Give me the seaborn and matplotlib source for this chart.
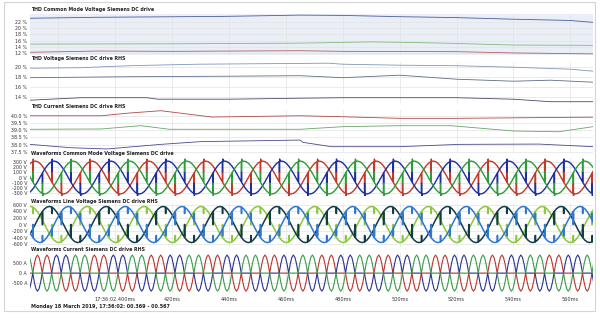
import numpy as np
import pandas as pd
import matplotlib
matplotlib.use("Agg")
import matplotlib.pyplot as plt
import matplotlib.patches as mpatches
import seaborn as sns

sns.set_style("white")
plt.rcParams['font.family'] = ['DejaVu Sans']

# ---------------- data ----------------
# THD Common Mode Voltage (%)
cm_blue_t = [370, 393, 439, 465, 480, 500, 520, 540, 560, 568]
cm_blue_v = [23.1, 23.4, 23.7, 24.1, 24.0, 23.6, 23.3, 22.8, 22.4, 21.8]
cm_green_t = [370, 420, 465, 490, 505, 520, 540, 568]
cm_green_v = [14.9, 15.0, 15.2, 15.6, 15.4, 15.1, 14.6, 14.5]
cm_red_t = [370, 394, 420, 465, 480, 520, 540, 568]
cm_red_v = [12.3, 12.7, 12.6, 12.8, 12.6, 12.5, 12.1, 11.8]

# THD Voltage (%)
tv_a_t = [370, 388, 405, 429, 475, 480, 500, 520, 540, 560, 568]
tv_a_v = [19.7, 19.8, 20.2, 20.5, 20.7, 20.5, 20.3, 20.2, 19.9, 19.5, 19.1]
tv_b_t = [370, 388, 405, 440, 465, 480, 500, 520, 540, 553, 568]
tv_b_v = [17.8, 17.9, 18.0, 18.1, 18.2, 17.8, 18.3, 17.5, 17.1, 17.3, 16.9]
tv_c_t = [370, 388, 411, 415, 440, 465, 480, 520, 540, 553, 568]
tv_c_v = [13.3, 13.8, 13.8, 13.5, 13.5, 13.7, 13.8, 13.8, 13.5, 13.0, 13.0]

# THD Current (%)
tc_red_t = [370, 395, 405, 416, 434, 465, 480, 500, 520, 560, 568]
tc_red_v = [40.0, 40.0, 40.19, 40.35, 39.91, 40.0, 39.93, 39.82, 39.82, 39.89, 39.9]
tc_green_t = [370, 395, 409, 419, 465, 480, 500, 518, 540, 556, 568]
tc_green_v = [39.06, 39.08, 39.31, 39.06, 39.06, 39.24, 39.31, 39.31, 38.94, 38.89, 39.24]
tc_navy_t = [370, 384, 397, 416, 430, 465, 466, 476, 500, 521, 549, 568]
tc_navy_v = [38.01, 37.78, 37.69, 38.01, 38.2, 38.31, 38.15, 37.85, 37.85, 38.01, 38.03, 37.85]

# one mains cycle of each waveform (angle deg, value)
cmv_ang = [0, 15, 15, 18, 18, 30, 45, 60, 75, 75, 78, 78, 79, 90, 105, 120, 135, 150, 165,
           180, 195, 195, 198, 198, 210, 225, 240, 255, 255, 258, 258, 259, 270, 285, 300, 315, 330, 345]
cmv_val = [0, 83, -113, -110, 99, 160, 226, 277, 309, 113, 118, 360, 315, 320, 309, 277, 226, 160, 83,
           0, -83, 113, 110, -99, -160, -226, -277, -309, -113, -118, -360, -315, -320, -309, -277, -226, -160, -83]

lv_ang = [0, 15, 15, 18, 18, 30, 45, 60, 75, 75, 78, 78, 90, 105, 120, 135, 135, 138, 138, 150, 165,
          180, 195, 195, 198, 198, 210, 225, 240, 255, 255, 258, 258, 270, 285, 300, 315, 315, 318, 318, 330, 345]
lv_val = [277, 392, 0, 0, 412, 480, 535, 554, 535, 339, 339, 527, 480, 392, 277, 143, 339, 339, 115, 0, -143,
          -277, -392, 0, 0, -412, -480, -535, -554, -535, -339, -339, -527, -480, -392, -277, -143, -339, -339, -115, 0, 143]

cur_ang = [15, 75, 85, 95, 105, 115, 125, 135, 145, 155, 165, 175, 185, 195,
           255, 265, 275, 285, 295, 305, 315, 325, 335, 345, 355, 365]
cur_val = [0, 0, 450, 780, 900, 780, 450, 0, 450, 780, 900, 780, 450, 0,
           0, -450, -780, -900, -780, -450, 0, -450, -780, -900, -780, -450]

mains_period_ms = 20.0
phase_a_zero_ms = 366.8
phase_lag_deg = [0, 120, 240]
phase_names = ["A", "B", "C"]

x_ticks = [400, 420, 440, 460, 480, 500, 520, 540, 560]
x_ticklabels = ["17:36:02.400ms", "420ms", "440ms", "460ms", "480ms", "500ms", "520ms", "540ms", "560ms"]
x_grid = [380, 400, 420, 440, 460, 480, 500, 520, 540, 560]

titles = ["THD Common Mode Voltage Siemens DC drive",
          "THD Voltage Siemens DC drive RHS",
          "THD Current Siemens DC drive RHS",
          "Waveforms Common Mode Voltage Siemens DC drive",
          "Waveforms Line Voltage Siemens DC drive RHS",
          "Waveforms Current Siemens DC drive RHS"]
footer = "Monday 18 March 2019, 17:36:02: 00.369 - 00.567"

# ---------------- helpers ----------------
def thd_frame(series):
    rows = []
    for name, ts, vs in series:
        for t, v in zip(ts, vs):
            rows.append((name, t, v))
    return pd.DataFrame(rows, columns=["s", "t", "v"])

def wave_frame(ang, val):
    rows = []
    for name, lag in zip(phase_names, phase_lag_deg):
        t0 = phase_a_zero_ms + lag / 360 * mains_period_ms
        for k in range(-2, 12):
            for a, v in zip(ang, val):
                rows.append((name, t0 + (a / 360 + k) * mains_period_ms, v))
    return pd.DataFrame(rows, columns=["s", "t", "v"])

W, H = 600, 318
fig = plt.figure(figsize=(W / 100, H / 100), dpi=100)
fig.patch.set_facecolor("white")

L, R = 30, 593
panels = [  # top px, bottom px
    (14, 54.5), (62, 102.5), (110, 153), (158, 196), (203, 247), (253, 294)]
title_y = [10, 58.3, 106.5, 154, 201.5, 249.3]

axes = []
for (top, bot) in panels:
    ax = fig.add_axes([L / W, 1 - bot / H, (R - L) / W, (bot - top) / H])
    axes.append(ax)

tick_fs = 3.4
grid_c = "#e3e3e3"

def style(ax, yticks, ylabels, ylim, face="white"):
    ax.set_facecolor(face)
    ax.set_xlim(370, 568)
    ax.set_ylim(*ylim)
    ax.set_yticks(yticks)
    ax.set_yticklabels(ylabels, fontsize=tick_fs, color="#333333")
    ax.set_xticks(x_grid)
    ax.set_xticklabels([])
    ax.tick_params(length=0, pad=2)
    ax.grid(True, color=grid_c, lw=0.5)
    ax.set_axisbelow(True)
    for s in ax.spines.values():
        s.set_visible(False)
    ax.set_xlabel("")
    ax.set_ylabel("")

# Panel 1
d = thd_frame([("b", cm_blue_t, cm_blue_v), ("g", cm_green_t, cm_green_v), ("r", cm_red_t, cm_red_v)])
sns.lineplot(data=d, x="t", y="v", hue="s", palette={"b": "#4a5f9c", "g": "#8ab87a", "r": "#b06060"},
             estimator=None, sort=False, legend=False, lw=0.6, ax=axes[0])
style(axes[0], [12, 14, 16, 18, 20, 22], ["12 %", "14 %", "16 %", "18 %", "20 %", "22 %"], (11.6, 24.45), face="#e9eef7")

# Panel 2
d = thd_frame([("a", tv_a_t, tv_a_v), ("b", tv_b_t, tv_b_v), ("c", tv_c_t, tv_c_v)])
sns.lineplot(data=d, x="t", y="v", hue="s", palette={"a": "#8097b8", "b": "#5f6f86", "c": "#4a4a70"},
             estimator=None, sort=False, legend=False, lw=0.6, ax=axes[1])
style(axes[1], [14, 16, 18, 20], ["14 %", "16 %", "18 %", "20 %"], (12.84, 20.94))

# Panel 3
d = thd_frame([("r", tc_red_t, tc_red_v), ("g", tc_green_t, tc_green_v), ("n", tc_navy_t, tc_navy_v)])
sns.lineplot(data=d, x="t", y="v", hue="s", palette={"r": "#b04848", "g": "#6aa56a", "n": "#4a4a90"},
             estimator=None, sort=False, legend=False, lw=0.6, ax=axes[2])
style(axes[2], [37.5, 38.0, 38.5, 39.0, 39.5, 40.0], ["37.5 %", "38.0 %", "38.5 %", "39.0 %", "39.5 %", "40.0 %"], (37.41, 40.4))

# Panel 4
d = wave_frame(cmv_ang, cmv_val)
sns.lineplot(data=d, x="t", y="v", hue="s", palette={"A": "#c0392b", "B": "#1f2e9e", "C": "#2e9b3a"},
             estimator=None, sort=False, legend=False, lw=1.0, ax=axes[3])
style(axes[3], [-300, -200, -100, 0, 100, 200, 300], ["-300 V", "-200 V", "-100 V", "0 V", "100 V", "200 V", "300 V"], (-360, 380))

# Panel 5
d = wave_frame(lv_ang, lv_val)
sns.lineplot(data=d, x="t", y="v", hue="s", palette={"A": "#8dc63f", "B": "#123c46", "C": "#2f78d0"},
             estimator=None, sort=False, legend=False, lw=1.1, ax=axes[4])
style(axes[4], [-600, -400, -200, 0, 200, 400, 600], ["-600 V", "-400 V", "-200 V", "0 V", "200 V", "400 V", "600 V"], (-690, 660))

# Panel 6
d = wave_frame(cur_ang, cur_val)
sns.lineplot(data=d, x="t", y="v", hue="s", palette={"A": "#b8362e", "B": "#2b3390", "C": "#3a9a48"},
             estimator=None, sort=False, legend=False, lw=0.8, ax=axes[5])
style(axes[5], [-500, 0, 500], ["-500 A", "0 A", "500 A"], (-1040, 1000))

# bottom x labels
for t, lab in zip(x_ticks, x_ticklabels):
    axes[5].annotate(lab, xy=(t, 0), xycoords=("data", "axes fraction"), xytext=(0, -4.0),
                     textcoords="offset points", ha="center", va="center", fontsize=3.6, color="#333333")

# titles
for ty, txt in zip(title_y, titles):
    fig.text(31 / W, 1 - ty / H, txt, fontsize=3.4, fontweight="bold", color="#222222", va="center", ha="left")

fig.text(31 / W, 1 - 306.7 / H, footer, fontsize=3.5, fontweight="bold", color="#222222", va="center", ha="left")

# outer frame
fig.patches.append(mpatches.Rectangle((4 / W, 1 - 311 / H), 591 / W, 309 / H, transform=fig.transFigure,
                                      fill=False, edgecolor="#d5d5d5", lw=0.8))

fig.savefig("out.png", dpi=100, facecolor="white")
